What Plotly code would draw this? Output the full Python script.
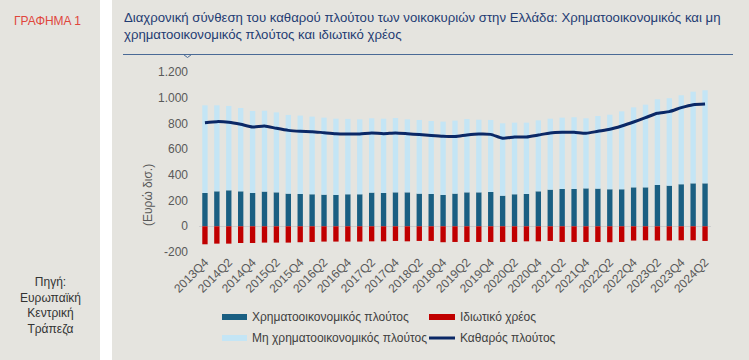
import plotly.graph_objects as go

quarters = ["2013Q4",
            "2014Q1", "2014Q2", "2014Q3", "2014Q4",
            "2015Q1", "2015Q2", "2015Q3", "2015Q4",
            "2016Q1", "2016Q2", "2016Q3", "2016Q4",
            "2017Q1", "2017Q2", "2017Q3", "2017Q4",
            "2018Q1", "2018Q2", "2018Q3", "2018Q4",
            "2019Q1", "2019Q2", "2019Q3", "2019Q4",
            "2020Q1", "2020Q2", "2020Q3", "2020Q4",
            "2021Q1", "2021Q2", "2021Q3", "2021Q4",
            "2022Q1", "2022Q2", "2022Q3", "2022Q4",
            "2023Q1", "2023Q2", "2023Q3", "2023Q4",
            "2024Q1", "2024Q2"]

financial_wealth = [259, 272, 280, 272, 259, 270, 264, 254, 251, 249, 246, 244, 249, 249,
                    262, 259, 264, 264, 254, 251, 244, 254, 264, 264, 267, 238, 249, 251,
                    272, 285, 290, 290, 295, 293, 288, 288, 303, 303, 321, 316, 327, 334, 334]

nonfinancial_wealth = [682, 669, 656, 648, 638, 629, 622, 612, 610, 604, 599, 593, 586, 583,
                       578, 578, 578, 568, 573, 568, 570, 568, 570, 565, 560, 563, 557, 555,
                       552, 552, 555, 558, 545, 565, 580, 606, 622, 643, 667, 680, 692, 713, 724]

private_debt = [-140, -135, -135, -130, -130, -127, -127, -127, -124, -122, -119, -119, -119, -119,
                -117, -117, -114, -117, -114, -114, -124, -122, -122, -122, -122, -122, -122, -117,
                -117, -114, -122, -122, -122, -122, -124, -122, -111, -109, -111, -111, -109, -109, -114]

net_wealth = [806, 814, 809, 793, 772, 780, 762, 746, 739, 736, 728, 720, 718, 718,
              726, 720, 726, 720, 713, 706, 700, 698, 710, 718, 715, 684, 695, 695,
              710, 726, 731, 731, 723, 739, 754, 780, 811, 845, 879, 892, 923, 946, 951]

y_tick_values = [-200, 0, 200, 400, 600, 800, 1000, 1200]
y_tick_labels = ["-200", "0", "200", "400", "600", "800", "1.000", "1.200"]

series_names = ["Χρηματοοικονομικός πλούτος", "Ιδιωτικό χρέος",
                "Μη χρηματοοικονομικός πλούτος", "Καθαρός πλούτος"]

title_text = ("Διαχρονική σύνθεση του καθαρού πλούτου των νοικοκυριών στην Ελλάδα: "
              "Χρηματοοικονομικός και μη<br>χρηματοοικονομικός πλούτος και ιδιωτικό χρέος")
chart_label = "ΓΡΑΦΗΜΑ 1"
source_text = "Πηγή:<br>Ευρωπαϊκή<br>Κεντρική<br>Τράπεζα"
y_title = "(Ευρώ δισ.)"

# ---- styling / layout ----
WIDTH, HEIGHT = 749, 360
L, R, T, B = 199, 711, 72, 252
PW, PH = R - L, B - T

def px(x):
    return (x - L) / PW

def py(y):
    return (B - y) / PH

BG = "#e5e4df"
C_FIN = "#1a5f82"
C_NONFIN = "#c4e5f5"
C_DEBT = "#c00000"
C_NET = "#0b2866"
FONT = "Liberation Sans"
GREY = "#595959"

fig = go.Figure()
fig.add_trace(go.Bar(x=quarters, y=financial_wealth, name=series_names[0],
                     marker=dict(color=C_FIN, line=dict(width=0))))
fig.add_trace(go.Bar(x=quarters, y=nonfinancial_wealth, name=series_names[2],
                     marker=dict(color=C_NONFIN, line=dict(width=0))))
fig.add_trace(go.Bar(x=quarters, y=private_debt, name=series_names[1],
                     marker=dict(color=C_DEBT, line=dict(width=0))))
fig.add_trace(go.Scatter(x=quarters, y=net_wealth, name=series_names[3], mode="lines",
                         line=dict(color=C_NET, width=3, shape="spline", smoothing=0.6)))

shapes = [
    # white separator strip
    dict(type="rect", xref="paper", yref="paper", x0=px(100), x1=px(112), y0=py(0), y1=py(HEIGHT),
         fillcolor="white", line=dict(width=0), layer="below"),
    # title underline
    dict(type="line", xref="paper", yref="paper", x0=px(123), x1=px(733), y0=py(54.5), y1=py(54.5),
         line=dict(color="#4a6a96", width=1)),
    dict(type="path", xref="paper", yref="paper",
         path=f"M {px(183.5)} {py(54.5)} L {px(187.5)} {py(57.5)} L {px(191.5)} {py(54.5)}",
         line=dict(color="#4a6a96", width=1)),
    # legend symbols
    dict(type="rect", xref="paper", yref="paper", x0=px(222), x1=px(247), y0=py(314), y1=py(320),
         fillcolor=C_FIN, line=dict(width=0)),
    dict(type="rect", xref="paper", yref="paper", x0=px(429), x1=px(455), y0=py(314), y1=py(320),
         fillcolor=C_DEBT, line=dict(width=0)),
    dict(type="rect", xref="paper", yref="paper", x0=px(222), x1=px(247), y0=py(335), y1=py(341),
         fillcolor=C_NONFIN, line=dict(width=0)),
    dict(type="line", xref="paper", yref="paper", x0=px(429), x1=px(455), y0=py(338), y1=py(338),
         line=dict(color=C_NET, width=3)),
]

def ann(text, x, y, size=12, color=GREY, xanchor="left", yanchor="middle", align="left", angle=0):
    return dict(text=text, x=px(x), y=py(y), xref="paper", yref="paper", showarrow=False,
                xanchor=xanchor, yanchor=yanchor, align=align, textangle=angle,
                font=dict(family=FONT, size=size, color=color))

annotations = [
    ann(title_text, 122, 8, size=13.2, color="#1f3c73", yanchor="top"),
    ann(chart_label, 12, 21, size=12, color="#e0463c"),
    ann(source_text, 50, 305, size=12, color="#333333", xanchor="center", align="center"),
    ann(y_title, 148, 195, size=12, color=GREY, xanchor="center", angle=-90),
    ann(series_names[0], 250, 317, size=12, color="#404040"),
    ann(series_names[1], 458, 317, size=12, color="#404040"),
    ann(series_names[2], 250, 338, size=12, color="#404040"),
    ann(series_names[3], 458, 338, size=12, color="#404040"),
]

fig.update_layout(
    width=WIDTH, height=HEIGHT,
    margin=dict(l=L, r=WIDTH - R, t=T, b=HEIGHT - B, pad=0),
    paper_bgcolor=BG, plot_bgcolor=BG,
    barmode="relative", bargap=0.55,
    showlegend=False,
    font=dict(family=FONT, size=12, color=GREY),
    shapes=shapes, annotations=annotations,
)
fig.update_xaxes(type="category", range=[-0.5, len(quarters) - 0.5],
                 tickvals=quarters[::2], ticktext=quarters[::2], tickangle=-45,
                 showgrid=False, showline=False, ticks="", zeroline=False,
                 tickfont=dict(family=FONT, size=12, color=GREY))
fig.update_yaxes(range=[-200, 1200], tickvals=y_tick_values, ticktext=y_tick_labels,
                 showgrid=False, showline=False, ticks="", zeroline=True,
                 zerolinecolor="#cfcfcf", zerolinewidth=1, ticklabelstandoff=10,
                 tickfont=dict(family=FONT, size=12, color=GREY))

fig.write_html("out.html", config={"displayModeBar": False},
               post_script="document.body.style.margin='0px';document.body.style.overflow='hidden';")
